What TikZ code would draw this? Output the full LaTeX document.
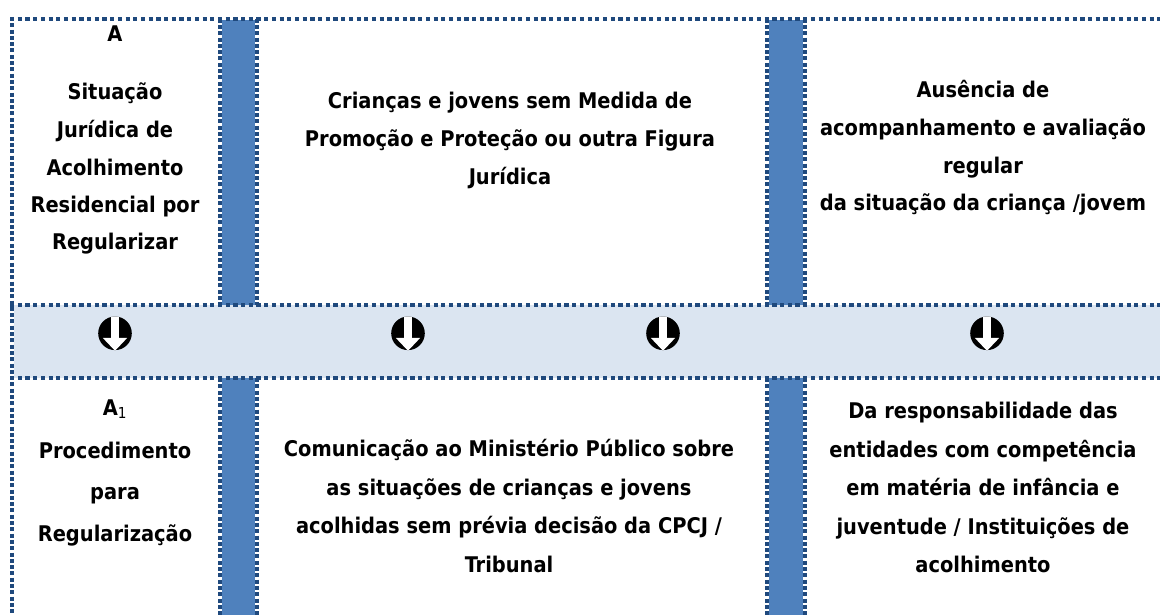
\documentclass[tikz,border=0pt]{standalone}
\usepackage{fontspec}
\setmainfont{DejaVu Sans Condensed}
\definecolor{bordc}{RGB}{31,73,125}
\definecolor{barc}{RGB}{79,129,189}
\definecolor{bandc}{RGB}{219,229,241}
\begin{document}
\begin{tikzpicture}[x=1pt,y=-1pt,
  hbrd/.style={draw=bordc, line width=4pt, dash pattern=on 4.2pt off 3.5pt},
  vbrd/.style={draw=bordc, line width=4pt, dash pattern=on 4pt off 2.3pt},
  txt/.style={font=\bfseries\fontsize{21.6}{24}\selectfont, anchor=base, inner sep=0pt},
  darrow/.style={circle, fill=black, minimum size=33.6pt, inner sep=0pt,
    path picture={
      \fill[white,shift={(path picture bounding box.center)}] (-3.6pt,18pt) rectangle (3.6pt,-4.9pt);
      \fill[white,shift={(path picture bounding box.center)}] (-12.2pt,-4.6pt) -- (12.2pt,-4.6pt) -- (0pt,-17.5pt) -- cycle;
    }}]
\useasboundingbox (0,0) rectangle (1160,615);
% band
\fill[bandc] (14,305) rectangle (1160,378);
% bars
\fill[barc] (222,20) rectangle (255,305);
\fill[barc] (222,378) rectangle (255,615);
\fill[barc] (769,20) rectangle (803,305);
\fill[barc] (769,378) rectangle (803,615);
% vertical borders
\draw[vbrd] (12,17) -- (12,615);
\foreach \xx in {220,257,767,805}{
  \draw[vbrd] (\xx,18.7) -- (\xx,305);
  \draw[vbrd] (\xx,378) -- (\xx,615);
}
% horizontal borders
\draw[hbrd] (10,18.7) -- (1160,18.7);
\draw[hbrd] (10,305) -- (1160,305);
\draw[hbrd] (10,378) -- (1160,378);
% arrows
\node[darrow] (ar1) at (115,333.3) {};
\node[darrow] (ar2) at (408,333.3) {};
\node[darrow] (ar3) at (663,333.3) {};
\node[darrow] (ar4) at (987,333.3) {};
% column 1 top
\node[txt] (a1) at (115,42) {A};
\node[txt] (a2) at (115,100) {Situação};
\node[txt] (a3) at (115,138) {Jurídica de};
\node[txt] (a4) at (115,175.5) {Acolhimento};
\node[txt] (a5) at (115,212.5) {Residencial por};
\node[txt] (a6) at (115,249.5) {Regularizar};
% column 2 top
\node[txt] (b1) at (510,109) {Crianças e jovens sem Medida de};
\node[txt] (b2) at (510,147) {Promoção e Proteção ou outra Figura};
\node[txt] (b3) at (510,185) {Jurídica};
% column 3 top
\node[txt] (c1) at (983,98) {Ausência de};
\node[txt] (c2) at (983,136) {acompanhamento e avaliação};
\node[txt] (c3) at (983,173.5) {regular};
\node[txt] (c4) at (983,211) {da situação da criança /jovem};
% column 1 bottom
\node[txt] (d1) at (115,415) {A\textsubscript{\mdseries 1}};
\node[txt] (d2) at (115,458.3) {Procedimento};
\node[txt] (d3) at (115,499.5) {para};
\node[txt] (d4) at (115,541.7) {Regularização};
% column 2 bottom
\node[txt] (e1) at (509,456.7) {Comunicação ao Ministério Público sobre};
\node[txt] (e2) at (509,495) {as situações de crianças e jovens};
\node[txt] (e3) at (509,533.3) {acolhidas sem prévia decisão da CPCJ /};
\node[txt] (e4) at (509,572) {Tribunal};
% column 3 bottom
\node[txt] (f1) at (983,418) {Da responsabilidade das};
\node[txt] (f2) at (983,457) {entidades com competência};
\node[txt] (f3) at (983,495) {em matéria de infância e};
\node[txt] (f4) at (983,534) {juventude / Instituições de};
\node[txt] (f5) at (983,572) {acolhimento};
\end{tikzpicture}
\end{document}
